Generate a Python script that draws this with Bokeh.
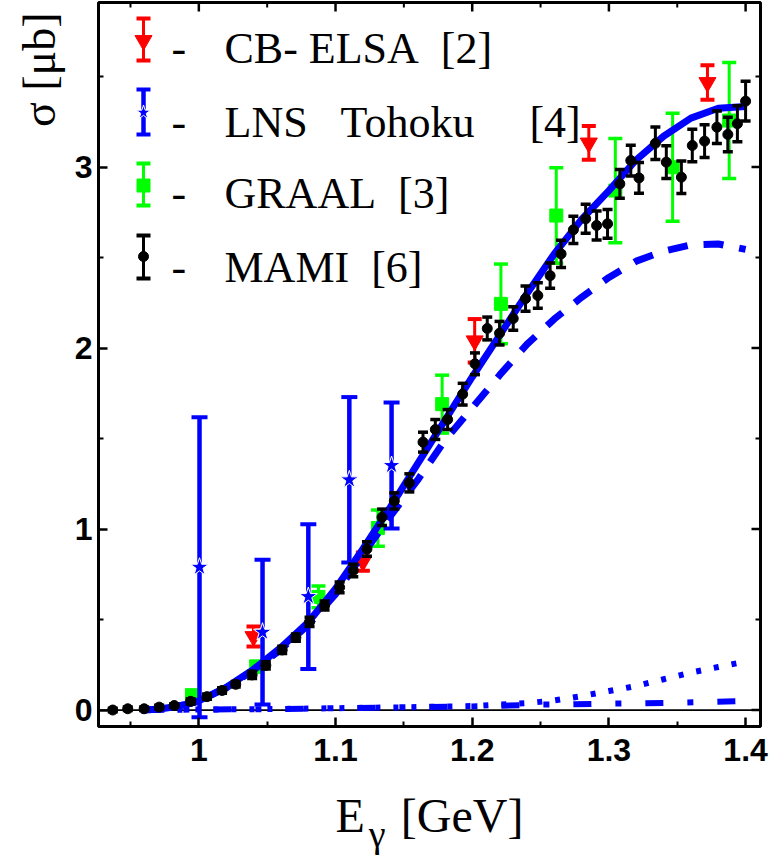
import math
from bokeh.plotting import figure
from bokeh.models import Range1d, LinearAxis, FixedTicker, Span, Label, Title
from bokeh.embed import file_html
from bokeh.resources import INLINE

# ---------------- data ----------------
mami_E = [0.937, 0.948, 0.960, 0.971, 0.982, 0.994, 1.006, 1.017, 1.027, 1.039,
          1.049, 1.061, 1.071, 1.081, 1.092, 1.103, 1.113, 1.123, 1.134, 1.143,
          1.154, 1.164, 1.173, 1.182, 1.193, 1.202, 1.211, 1.220, 1.230, 1.239,
          1.248, 1.257, 1.265, 1.274, 1.283, 1.291, 1.299, 1.308, 1.316, 1.322,
          1.334, 1.342, 1.353, 1.361, 1.370, 1.379, 1.387, 1.394, 1.400]
mami_sigma = [0.000, 0.007, 0.007, 0.016, 0.025, 0.048, 0.074, 0.108, 0.142, 0.194,
              0.247, 0.332, 0.400, 0.487, 0.577, 0.678, 0.771, 0.890, 1.065, 1.155,
              1.255, 1.480, 1.550, 1.605, 1.745, 1.913, 2.108, 2.082, 2.163, 2.273,
              2.290, 2.400, 2.520, 2.653, 2.714, 2.677, 2.686, 2.907, 3.036, 2.940,
              3.131, 3.027, 2.944, 3.119, 3.143, 3.220, 3.180, 3.239, 3.364]
mami_err = [0.01, 0.01, 0.01, 0.01, 0.01, 0.015, 0.015, 0.015, 0.015, 0.02,
            0.02, 0.02, 0.02, 0.025, 0.025, 0.03, 0.035, 0.04, 0.045, 0.045,
            0.05, 0.055, 0.055, 0.055, 0.06, 0.06, 0.063, 0.065, 0.065, 0.07,
            0.07, 0.07, 0.075, 0.075, 0.08, 0.08, 0.08, 0.08, 0.085, 0.085,
            0.09, 0.09, 0.09, 0.09, 0.09, 0.09, 0.095, 0.10, 0.11]

graal_E = [0.995, 1.042, 1.0875, 1.131, 1.178, 1.221, 1.2615, 1.3047, 1.3466, 1.388]
graal_sigma = [0.08, 0.24, 0.625, 1.005, 1.69, 2.244, 2.732, 2.870, 2.999, 3.257]
graal_err = [0.03, 0.03, 0.06, 0.10, 0.16, 0.22, 0.264, 0.288, 0.298, 0.32]

elsa_E = [1.040, 1.120, 1.2018, 1.2853, 1.3721]
elsa_sigma = [0.406, 0.82, 2.04, 3.133, 3.467]
elsa_err = [0.055, 0.05, 0.12, 0.093, 0.095]

lns_E = [1.0005, 1.0466, 1.0801, 1.1101, 1.141]
lns_sigma = [0.789, 0.430, 0.627, 1.272, 1.351]
lns_err = [0.829, 0.40, 0.40, 0.457, 0.348]

full_E = [0.958, 0.97, 0.98, 0.99, 1.00, 1.02, 1.04, 1.06, 1.08, 1.10, 1.12, 1.14,
          1.16, 1.18, 1.20, 1.22, 1.24, 1.26, 1.28, 1.30, 1.32, 1.34, 1.36, 1.38, 1.40]
full_sigma = [0.0, 0.004, 0.015, 0.03, 0.05, 0.125, 0.225, 0.345, 0.485, 0.67, 0.89, 1.12,
              1.36, 1.60, 1.84, 2.07, 2.30, 2.52, 2.71, 2.87, 3.04, 3.17, 3.27, 3.325, 3.335]

dashed_E = [0.958, 0.97, 0.98, 0.99, 1.00, 1.02, 1.04, 1.06, 1.08, 1.10, 1.12, 1.14,
            1.16, 1.18, 1.20, 1.22, 1.24, 1.26, 1.28, 1.30, 1.32, 1.34, 1.36, 1.38, 1.40]
dashed_sigma = [0.0, 0.004, 0.015, 0.03, 0.05, 0.122, 0.22, 0.335, 0.47, 0.64, 0.86, 1.07,
                1.27, 1.49, 1.67, 1.85, 2.02, 2.16, 2.28, 2.39, 2.48, 2.535, 2.57, 2.575, 2.545]

dotted_E = [0.958, 1.00, 1.05, 1.10, 1.15, 1.20, 1.24, 1.26, 1.28, 1.30, 1.32, 1.34, 1.36, 1.38, 1.40]
dotted_sigma = [0.0, 0.003, 0.005, 0.01, 0.015, 0.022, 0.038, 0.053, 0.077, 0.105, 0.133,
                0.170, 0.207, 0.238, 0.268]

dashdot_E = [0.958, 1.00, 1.05, 1.10, 1.15, 1.20, 1.25, 1.30, 1.35, 1.40]
dashdot_sigma = [0.0, 0.003, 0.005, 0.01, 0.015, 0.02, 0.03, 0.035, 0.04, 0.05]

x_ticks = [1.0, 1.1, 1.2, 1.3, 1.4]
x_tick_labels = ["1", "1.1", "1.2", "1.3", "1.4"]
x_minor = [0.95, 1.05, 1.15, 1.25, 1.35]
y_ticks = [0, 1, 2, 3]
y_tick_labels = ["0", "1", "2", "3"]
y_minor = [0.5, 1.5, 2.5, 3.5]

NB = "\u00a0"
legend_labels = ["CB- ELSA" + NB * 2 + "[2]", "LNS" + NB * 3 + "Tohoku" + NB * 5 + "[4]",
                 "GRAAL" + NB * 2 + "[3]", "MAMI" + NB * 2 + "[6]"]
x_title_main = "E" + NB * 3 + "[GeV]"
x_title_sub = "γ"
y_title = "σ [μb]"

# ---------------- layout ----------------
W, H = 774, 858
FL, FR, FT, FB = 98, 760, 2, 726
X0, X1 = 0.9266, 1.4109
Y0, Y1 = -0.091, 3.909

RED, BLUE, GREEN, BLACK = "#ff0000", "#0000ff", "#00ff00", "#000000"
SERIF = "Liberation Serif"
SANS = "Liberation Sans"


def dx(px):
    return X0 + (px - FL) / (FR - FL) * (X1 - X0)


def dy(py):
    return Y1 - (py - FT) / (FB - FT) * (Y1 - Y0)


def dlen_x(px):
    return px / (FR - FL) * (X1 - X0)


def dlen_y(px):
    return px / (FB - FT) * (Y1 - Y0)


p = figure(width=W, height=H, x_range=Range1d(X0, X1), y_range=Range1d(Y0, Y1),
           output_backend="svg", toolbar_location=None,
           min_border_left=FL, min_border_right=W - FR,
           min_border_top=FT, min_border_bottom=H - FB)
p.xgrid.grid_line_color = None
p.ygrid.grid_line_color = None
p.background_fill_color = "white"
p.border_fill_color = "white"
p.outline_line_color = "black"
p.outline_line_width = 3
p.outline_line_alpha = 1.0

for ax, ticks, minor, labels in ((p.xaxis[0], x_ticks, x_minor, x_tick_labels),
                                 (p.yaxis[0], y_ticks, y_minor, y_tick_labels)):
    ax.ticker = FixedTicker(ticks=ticks, minor_ticks=minor)
    ax.major_label_overrides = dict(zip(ticks, labels))
    ax.axis_line_color = None
    ax.major_tick_in = 9
    ax.major_tick_out = 0
    ax.minor_tick_in = 5
    ax.minor_tick_out = 0
    ax.major_tick_line_width = 2.5
    ax.minor_tick_line_width = 2
    ax.major_tick_line_color = "black"
    ax.minor_tick_line_color = "black"
    ax.major_label_text_font = SANS
    ax.major_label_text_font_style = "bold"
    ax.major_label_text_font_size = "32px"
    ax.major_label_text_color = "black"

p.xaxis.major_label_standoff = 12
p.yaxis.major_label_standoff = 6

# x-axis title "E  [GeV]" on the axis itself, subscript gamma on a second bare axis
xa = p.xaxis[0]
xa.axis_label = x_title_main
xa.axis_label_text_font = SERIF
xa.axis_label_text_font_style = "normal"
xa.axis_label_text_font_size = "48px"
xa.axis_label_text_color = "black"
xa.axis_label_standoff = 25

sub = LinearAxis(ticker=FixedTicker(ticks=[]), axis_line_color=None,
                 major_tick_line_color=None, minor_tick_line_color=None,
                 axis_label=x_title_sub + NB * 11, axis_label_text_font=SERIF,
                 axis_label_text_font_style="normal", axis_label_text_font_size="38px",
                 axis_label_text_color="black", axis_label_standoff=-32)
p.add_layout(sub, "below")

# y-axis title at the top of the left side
p.add_layout(Title(text=y_title, align="right", offset=10, standoff=14,
                   text_font=SERIF, text_font_size="46px", text_font_style="normal",
                   text_color="black"), "left")

# ticks on the top and right frame edges
tk_major, tk_minor = 9, 5
p.segment(x0=x_ticks, y0=[Y1] * len(x_ticks), x1=x_ticks, y1=[Y1 - dlen_y(tk_major)] * len(x_ticks),
          line_color="black", line_width=2.5)
p.segment(x0=x_minor, y0=[Y1] * len(x_minor), x1=x_minor, y1=[Y1 - dlen_y(tk_minor)] * len(x_minor),
          line_color="black", line_width=2)
p.segment(x0=[X1] * len(y_ticks), y0=y_ticks, x1=[X1 - dlen_x(tk_major)] * len(y_ticks), y1=y_ticks,
          line_color="black", line_width=2.5)
p.segment(x0=[X1] * len(y_minor), y0=y_minor, x1=[X1 - dlen_x(tk_minor)] * len(y_minor), y1=y_minor,
          line_color="black", line_width=2)


def errbars(E, s, e, color, bar_w, cap_len, cap_w):
    lo = [a - b for a, b in zip(s, e)]
    hi = [a + b for a, b in zip(s, e)]
    p.segment(x0=E, y0=lo, x1=E, y1=hi, line_color=color, line_width=bar_w)
    p.scatter(E, lo, marker="dash", size=cap_len, line_color=color, line_width=cap_w)
    p.scatter(E, hi, marker="dash", size=cap_len, line_color=color, line_width=cap_w)


# zero line
p.add_layout(Span(location=0, dimension="width", line_color="black", line_width=1.8, level="underlay"))

# CB-ELSA (red)
errbars(elsa_E, elsa_sigma, elsa_err, RED, 3, 14, 4)
p.scatter(elsa_E, elsa_sigma, marker="inverted_triangle", size=17, fill_color=RED, line_color=RED)

# GRAAL (green)
errbars(graal_E, graal_sigma, graal_err, GREEN, 3, 14, 3.5)
p.scatter(graal_E, graal_sigma, marker="square", size=13, fill_color=GREEN, line_color=GREEN)

# LNS Tohoku (blue stars)
errbars(lns_E, lns_sigma, lns_err, BLUE, 4.5, 16, 4)
p.scatter(lns_E, lns_sigma, marker="star", size=19, fill_color=BLUE, line_color="white", line_width=1)

# model curves
p.line(dashdot_E, dashdot_sigma, line_color=BLUE, line_width=6, line_dash="18 24 6 24")
p.line(dotted_E, dotted_sigma, line_color=BLUE, line_width=6, line_dash="5 13")
p.line(dashed_E, dashed_sigma, line_color=BLUE, line_width=7, line_dash="20 16")
p.line(full_E, full_sigma, line_color=BLUE, line_width=7)

# MAMI (black)
errbars(mami_E, mami_sigma, mami_err, BLACK, 3, 10, 3.5)
p.scatter(mami_E, mami_sigma, marker="circle", size=10, fill_color=BLACK, line_color=BLACK)

# ---------------- legend (drawn by hand) ----------------
leg_colors = [RED, BLUE, GREEN, BLACK]
leg_markers = ["inverted_triangle", "star", "square", "circle"]
leg_msizes = [17, 15, 13, 10]
leg_top = [18, 89, 163, 235]
leg_bot = [60, 134, 205, 278]
leg_mark = [40, 112, 185, 256]
leg_base = [48, 122, 193, 267]
icon_px = 143
for i in range(4):
    xi = dx(icon_px)
    c = leg_colors[i]
    bw = 4.5 if c == BLUE else 3
    p.segment(x0=[xi], y0=[dy(leg_top[i])], x1=[xi], y1=[dy(leg_bot[i])], line_color=c, line_width=bw)
    p.scatter([xi, xi], [dy(leg_top[i]), dy(leg_bot[i])], marker="dash", size=14, line_color=c, line_width=4)
    lc = "white" if c == BLUE else c
    p.scatter([xi], [dy(leg_mark[i])], marker=leg_markers[i], size=leg_msizes[i],
              fill_color=c, line_color=lc, line_width=1)
    p.add_layout(Label(x=dx(171), y=dy(leg_base[i]), text="-", text_font=SERIF,
                       text_font_size="44px", text_color="black", text_baseline="alphabetic"))
    p.add_layout(Label(x=dx(224), y=dy(leg_base[i]), text=legend_labels[i], text_font=SERIF,
                       text_font_size="44px", text_color="black", text_baseline="alphabetic"))

open("out.html", "w").write(file_html(p, INLINE))
